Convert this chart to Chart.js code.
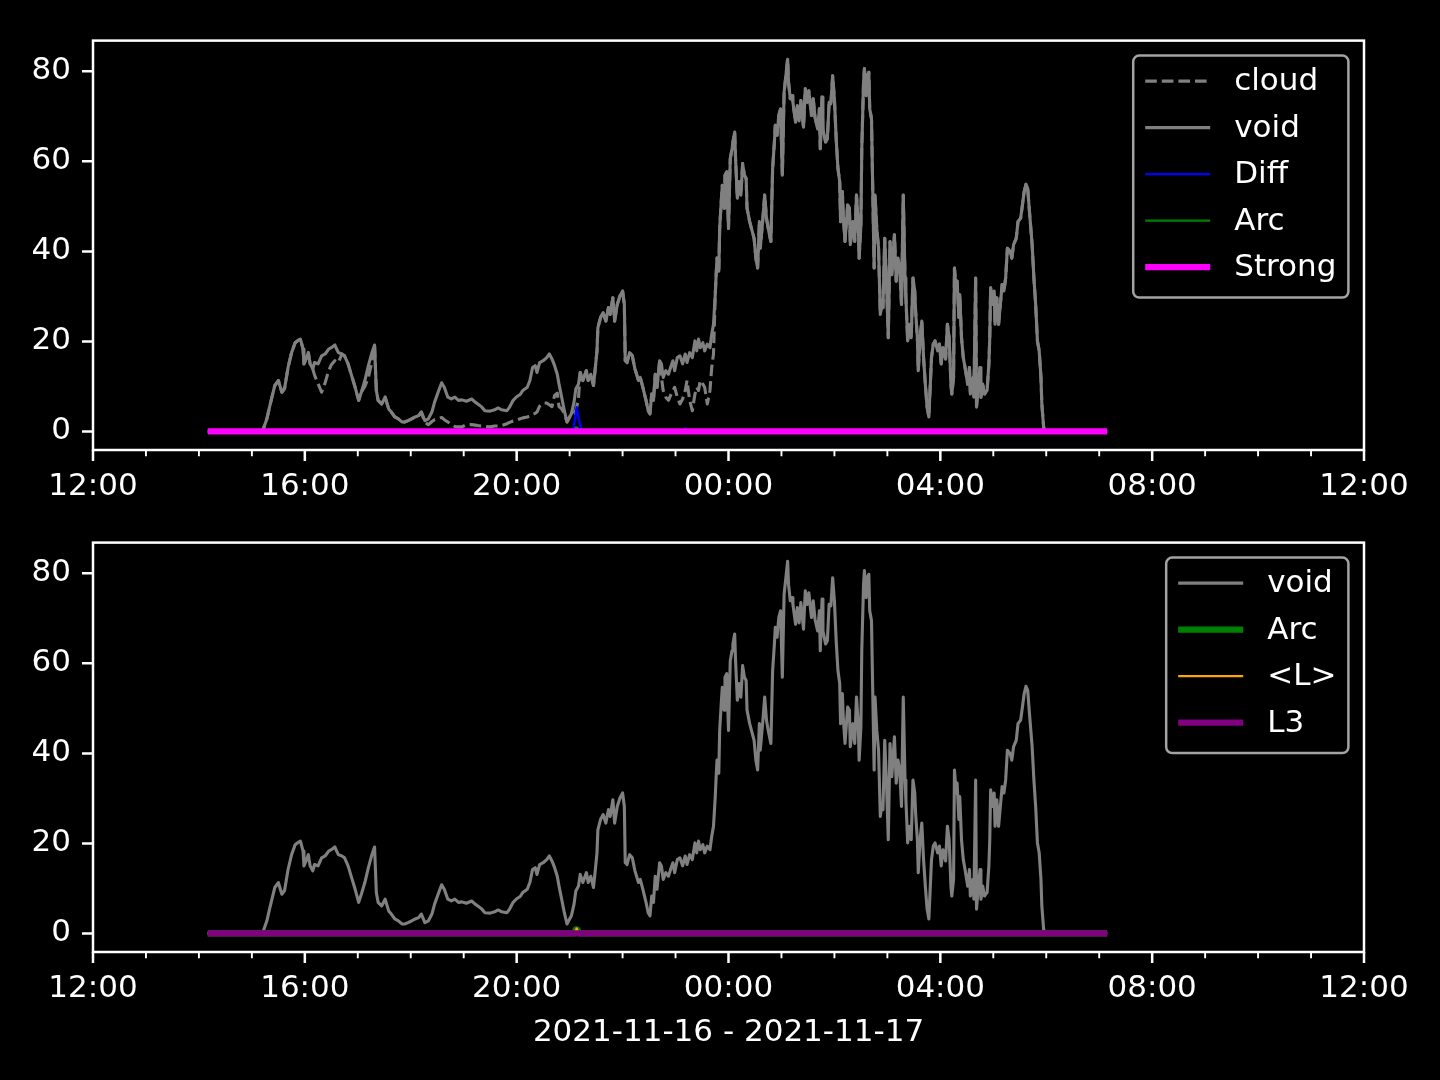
<!DOCTYPE html>
<html>
<head>
<meta charset="utf-8">
<title>void / cloud</title>
<script src="https://cdn.jsdelivr.net/npm/chart.js@4.4.0/dist/chart.umd.min.js"></script>
<style>
  body { margin: 0; background: #000; width: 1440px; height: 1080px; overflow: hidden; }
  canvas { position: absolute; left: 0; }
  #topChart { top: 0; }
  #bottomChart { top: 502px; }
</style>
</head>
<body>
<canvas id="topChart" width="1440" height="502"></canvas>
<canvas id="bottomChart" width="1440" height="578"></canvas>
<script>
// Sample times (local clock, 2021-11-16 afternoon -> 2021-11-17 morning)
const times = [
  '14:10','15:12','15:17','15:20','15:26','15:30','15:34','15:37','15:41','15:45',
  '15:49','15:53','15:55','15:58','15:59','16:02','16:04','16:06','16:09','16:11',
  '16:15','16:19','16:23','16:27','16:30','16:34','16:36','16:38','16:42','16:45',
  '16:49','16:53','16:57','17:01','17:04','17:08','17:12','17:16','17:19','17:21',
  '17:23','17:27','17:31','17:35','17:38','17:42','17:46','17:50','17:53','17:57',
  '18:01','18:05','18:09','18:12','18:16','18:20','18:24','18:27','18:31','18:35',
  '18:38','18:42','18:46','18:50','18:54','18:58','19:03','19:09','19:13','19:16',
  '19:20','19:24','19:30','19:35','19:39','19:43','19:49','19:52','19:56','20:00',
  '20:04','20:07','20:12','20:15','20:18','20:21','20:23','20:26','20:30','20:34',
  '20:37','20:40','20:43','20:46','20:48','20:51','20:54','20:57','21:00','21:02',
  '21:05','21:07','21:10','21:12','21:15','21:19','21:21','21:24','21:27','21:29',
  '21:31','21:32','21:35','21:38','21:41','21:44','21:46','21:49','21:51','21:54',
  '21:57','22:00','22:02','22:03','22:05','22:08','22:11','22:14','22:18','22:20',
  '22:23','22:27','22:29','22:31','22:33','22:35','22:37','22:39','22:42','22:44',
  '22:46','22:49','22:52','22:55','22:57','22:59','23:02','23:05','23:08','23:11',
  '23:13','23:16','23:19','23:22','23:24','23:26','23:28','23:31','23:33','23:36',
  '23:39','23:41','23:43','23:45','23:46','23:47','23:49','23:50','23:52','23:53',
  '23:55','23:56','23:58','00:00','00:02','00:04','00:05','00:07','00:08','00:10',
  '00:12','00:14','00:16','00:18','00:20','00:21','00:24','00:26','00:29','00:31',
  '00:33','00:35','00:36','00:39','00:41','00:43','00:45','00:48','00:50','00:52',
  '00:53','00:55','00:57','00:59','01:01','01:03','01:05','01:07','01:08','01:10',
  '01:12','01:13','01:16','01:18','01:20','01:22','01:25','01:27','01:29','01:31',
  '01:34','01:36','01:38','01:41','01:43','01:44','01:46','01:47','01:50','01:52',
  '01:54','01:56','01:58','02:00','02:02','02:04','02:06','02:07','02:09','02:10',
  '02:12','02:15','02:17','02:18','02:21','02:23','02:25','02:27','02:28','02:30',
  '02:31','02:33','02:34','02:36','02:37','02:39','02:40','02:42','02:43','02:45',
  '02:46','02:48','02:50','02:52','02:54','02:55','02:57','02:59','03:01','03:03',
  '03:05','03:08','03:10','03:12','03:14','03:16','03:18','03:20','03:21','03:23',
  '03:25','03:27','03:29','03:31','03:32','03:34','03:35','03:37','03:39','03:41',
  '03:43','03:45','03:47','03:48','03:50','03:52','03:54','03:57','03:59','04:01',
  '04:03','04:06','04:08','04:10','04:12','04:13','04:15','04:16','04:18','04:19',
  '04:21','04:22','04:24','04:26','04:28','04:31','04:33','04:34','04:37','04:38',
  '04:40','04:41','04:43','04:45','04:46','04:48','04:50','04:53','04:55','04:56',
  '04:57','04:59','05:01','05:02','05:04','05:06','05:08','05:10','05:12','05:14',
  '05:16','05:19','05:21','05:23','05:26','05:28','05:31','05:33','05:35','05:37',
  '05:39','05:41','05:44','05:46','05:48','05:50','05:52','05:54','05:55','05:57',
  '05:58','07:09'
];

const voidValues = [
  0,0,2.8,5.4,10.2,11.3,8.7,9.5,14.2,17.5,
  19.7,20.3,20.5,18.3,15.0,16.4,17.5,15.0,13.9,15.3,
  15.0,16.8,17.2,18.3,18.6,19.2,18.3,17.5,17.2,16.8,
  15.0,12.4,9.8,6.9,8.7,11.3,14.6,17.5,19.2,9.1,
  6.9,6.1,7.6,5.0,4.3,3.2,2.8,2.1,2.1,2.4,
  2.8,3.2,3.5,4.3,2.4,2.8,4.3,6.5,8.7,10.8,
  9.8,7.6,7.2,7.6,6.9,7.0,6.7,7.2,6.5,6.1,
  5.5,4.6,4.5,4.8,5.2,4.8,4.6,5.4,6.9,7.7,
  8.2,9.1,9.8,11.3,14.2,14.6,13.1,15.3,15.7,16.4,
  17.2,16.1,14.6,12.7,10.5,7.6,4.6,2.1,3.2,3.9,
  6.5,9.4,10.5,13.1,11.3,13.5,11.3,12.7,10.2,13.9,
  17.9,23.0,25.3,26.4,24.5,27.5,26.0,29.7,24.5,28.2,
  30.1,31.2,28.2,15.7,15.3,17.5,16.8,13.9,11.3,12.0,
  9.8,6.5,4.6,3.9,8.3,6.9,12.7,9.8,15.7,15.0,
  12.0,13.5,12.7,14.6,15.7,13.5,16.4,16.8,15.0,17.2,
  15.3,17.5,16.4,20.1,17.9,20.5,18.6,19.7,17.9,19.4,
  18.6,21.6,23.8,30.4,34.8,38.5,35.6,45.1,51.8,54.7,
  49.6,56.9,57.7,45.1,60.6,62.8,64.3,66.5,60.6,51.8,
  55.5,52.5,59.5,56.9,56.2,49.6,46.6,45.1,42.9,38.5,
  36.3,46.6,40.7,47.4,52.5,47.4,45.1,42.2,58.4,64.3,
  68.0,65.8,70.2,71.7,56.9,75.4,79.0,82.7,77.6,73.9,
  74.6,73.1,68.7,72.4,69.0,73.5,67.6,76.1,73.1,75.7,
  70.2,73.9,69.8,67.2,71.7,62.8,74.3,67.2,64.3,65.0,
  73.1,72.8,79.0,73.9,65.0,58.4,55.5,46.6,53.3,48.1,
  42.2,50.3,49.6,41.5,46.6,42.2,52.5,46.6,38.5,45.9,
  62.8,77.6,80.6,74.6,79.0,79.8,71.7,69.5,58.4,36.3,
  52.5,45.1,40.7,26.0,29.0,27.5,42.9,33.4,20.8,42.2,
  34.8,43.7,33.4,38.5,36.3,28.2,52.5,34.1,29.7,20.1,
  23.8,20.8,34.1,31.2,26.7,20.8,13.5,20.8,24.5,16.4,
  10.5,5.4,3.2,7.6,16.4,19.4,20.1,17.9,19.4,15.0,
  18.6,16.1,23.8,20.8,10.5,8.3,12.0,36.3,31.2,33.4,
  25.3,30.4,20.8,16.4,14.2,10.5,14.2,8.3,12.0,7.6,
  34.1,5.4,10.5,14.2,7.6,10.5,8.3,9.1,15.0,20.8,
  31.9,28.2,31.2,23.8,29.7,23.8,28.2,32.6,31.2,34.1,
  40.7,40.0,38.5,41.5,42.9,46.6,47.4,50.3,53.3,54.9,
  54.0,48.8,41.5,34.1,28.2,20.1,17.9,12.0,6.1,1.0,
  0,0
];

const cloudValues = [
  0,0,2.8,5.4,10.2,11.3,8.7,9.5,14.2,17.5,
  19.7,20.3,20.5,18.3,15.0,16.4,17.5,15.0,13.9,12.5,
  10.6,8.7,10.8,13.5,14.8,15.7,15.4,15.3,17.2,16.8,
  15.0,12.4,9.8,6.9,8.7,10.0,12.0,15.5,19.2,9.1,
  6.9,6.1,7.6,5.0,4.3,3.2,2.8,2.1,2.1,2.4,
  2.8,3.2,3.5,4.3,2.0,1.5,2.2,2.6,2.8,3.1,
  2.6,2.1,1.6,1.1,1.0,1.0,1.5,1.5,1.4,1.3,
  1.2,1.1,1.0,1.2,1.2,1.3,1.7,2.0,2.3,2.5,
  2.8,3.0,3.2,3.4,3.8,4.0,4.3,5.6,6.3,6.3,
  5.9,5.5,8.0,8.5,5.5,5.0,4.0,2.1,3.2,3.9,
  4.0,4.6,7.2,13.1,11.3,13.5,11.3,12.7,10.2,13.9,
  17.9,23.0,25.3,26.4,24.5,27.5,26.0,29.7,24.5,28.2,
  30.1,31.2,28.2,15.7,15.3,17.5,16.8,13.9,11.3,12.0,
  9.8,6.5,4.6,3.9,8.3,6.9,12.7,9.8,15.7,12.0,
  9.1,7.6,6.9,8.3,9.1,9.8,7.6,6.1,7.2,9.1,
  11.3,6.9,4.6,8.3,9.8,9.1,11.3,10.5,9.8,6.1,
  9.1,14.2,17.2,30.4,34.8,38.5,35.6,45.1,51.8,54.7,
  49.6,56.9,57.7,45.1,60.6,62.8,64.3,66.5,60.6,51.8,
  55.5,52.5,59.5,56.9,56.2,49.6,46.6,45.1,42.9,38.5,
  36.3,46.6,40.7,47.4,52.5,47.4,45.1,42.2,58.4,64.3,
  68.0,65.8,70.2,71.7,56.9,75.4,79.0,82.7,77.6,73.9,
  74.6,73.1,68.7,72.4,69.0,73.5,67.6,76.1,73.1,75.7,
  70.2,73.9,69.8,67.2,71.7,62.8,74.3,67.2,64.3,65.0,
  73.1,72.8,79.0,73.9,65.0,58.4,55.5,46.6,53.3,48.1,
  42.2,50.3,49.6,41.5,46.6,42.2,52.5,46.6,38.5,45.9,
  62.8,77.6,80.6,74.6,79.0,79.8,71.7,69.5,58.4,36.3,
  52.5,45.1,40.7,26.0,29.0,27.5,42.9,33.4,20.8,42.2,
  34.8,43.7,33.4,38.5,36.3,28.2,52.5,34.1,29.7,20.1,
  23.8,20.8,34.1,31.2,26.7,20.8,13.5,20.8,24.5,16.4,
  10.5,5.4,3.2,7.6,16.4,19.4,20.1,17.9,19.4,15.0,
  18.6,16.1,23.8,20.8,10.5,8.3,12.0,36.3,31.2,33.4,
  25.3,30.4,20.8,16.4,14.2,10.5,14.2,8.3,12.0,7.6,
  34.1,5.4,10.5,14.2,7.6,10.5,8.3,9.1,15.0,20.8,
  31.9,28.2,31.2,23.8,29.7,23.8,28.2,32.6,31.2,34.1,
  40.7,40.0,38.5,41.5,42.9,46.6,47.4,50.3,53.3,54.9,
  54.0,48.8,41.5,34.1,28.2,20.1,17.9,12.0,6.1,1.0,
  0,0
];

// small series, mostly zero
const diffTimes = ['14:10','21:04','21:08','21:11','21:14','23:10','23:11','23:12','07:09'];
const diffValues = [0, 0, 5.4, 2.0, 0, 0, 0.7, 0, 0];
const arcTimes = ['14:10','21:05','21:07','21:09','21:11','07:09'];
const arcValues = [0, 0, 0.9, 0.8, 0, 0];
const lTimes = ['14:10','21:06','21:08','21:10','07:09'];
const lValues = [0, 0, 1.1, 0, 0];
const strongTimes = ['14:10','07:09'];
const strongValues = [0, 0];
const l3Times = ['14:10','07:09'];
const l3Values = [0, 0];

// axes
const xTickLabels = ['12:00','16:00','20:00','00:00','04:00','08:00','12:00'];
const yTickValues = [0, 20, 40, 60, 80];
const xLabel = '2021-11-16 - 2021-11-17';

const FS = 31;
Chart.defaults.font.family = "'DejaVu Sans', sans-serif";
Chart.defaults.font.size = FS;
Chart.defaults.color = '#fff';

// hours after 12:00 on the first day
const toHours = t => {
    const [h, m] = t.split(':').map(Number);
    const v = h - 12 + m / 60;
    return v < 0 ? v + 24 : v;
};
const pts = (ts, vs) => ts.map((t, i) => ({ x: toHours(t), y: vs[i] }));

const yMax = Math.max(...voidValues, ...cloudValues);
const yPad = yMax * 0.05;

const line = (label, ts, vs, color, width, dash) => ({
    label,
    data: pts(ts, vs),
    borderColor: color,
    backgroundColor: color,
    borderWidth: width,
    borderDash: dash || [],
    borderCapStyle: 'butt',
    borderJoinStyle: 'round',
    pointRadius: 0,
    tension: 0,
    fill: false
});

// frame + tick marks, matplotlib style
const frame = {
    id: 'frame',
    afterDraw(chart) {
        const { ctx, chartArea: a, scales: { x, y } } = chart;
        ctx.save();
        ctx.strokeStyle = '#fff';
        ctx.lineWidth = 2.5;
        ctx.strokeRect(a.left, a.top, a.right - a.left, a.bottom - a.top);
        ctx.beginPath();
        xTickLabels.forEach((_, i) => {
            const px = x.getPixelForValue(i * 4);
            ctx.moveTo(px, a.bottom);
            ctx.lineTo(px, a.bottom + 11);
        });
        yTickValues.forEach(v => {
            const py = y.getPixelForValue(v);
            ctx.moveTo(a.left, py);
            ctx.lineTo(a.left - 11, py);
        });
        ctx.stroke();
        // minor ticks every hour
        ctx.lineWidth = 1.9;
        ctx.beginPath();
        for (let h = 1; h < 24; h++) {
            if (h % 4 === 0) continue;
            const px = x.getPixelForValue(h);
            ctx.moveTo(px, a.bottom);
            ctx.lineTo(px, a.bottom + 6.25);
        }
        ctx.stroke();
        ctx.restore();
    }
};

// legend box in the upper right corner
const boxLegend = {
    id: 'boxLegend',
    afterDatasetsDraw(chart) {
        const { ctx, chartArea: a } = chart;
        const sets = chart.data.datasets;
        ctx.save();
        ctx.font = FS + "px 'DejaVu Sans'";
        const textW = Math.max(...sets.map(d => ctx.measureText(d.label).width));
        const w = 12 + 65 + 24 + textW + 12;
        const h = 56 + (sets.length - 1) * 46.5;
        const left = a.right - 15.6 - w;
        const top = a.top + 15;
        ctx.beginPath();
        ctx.roundRect(left, top, w, h, 6);
        ctx.fillStyle = 'rgba(0,0,0,0.8)';
        ctx.fill();
        ctx.lineWidth = 2.5;
        ctx.strokeStyle = 'rgba(204,204,204,0.8)';
        ctx.stroke();
        sets.forEach((d, i) => {
            const cy = top + 25.5 + i * 46.5;
            ctx.beginPath();
            ctx.setLineDash(d.borderDash);
            ctx.strokeStyle = d.borderColor;
            ctx.lineWidth = d.borderWidth;
            ctx.moveTo(left + 12, cy);
            ctx.lineTo(left + 77, cy);
            ctx.stroke();
            ctx.setLineDash([]);
            ctx.fillStyle = '#fff';
            ctx.textAlign = 'left';
            ctx.textBaseline = 'alphabetic';
            ctx.fillText(d.label, left + 101, cy + 0.3 * FS);
        });
        ctx.restore();
    }
};

function makeChart(id, datasets, axisHeight, withTitle) {
    // later datasets are drawn on top
    datasets.forEach((d, i) => { d.order = datasets.length - i; });
    return new Chart(document.getElementById(id), {
        type: 'line',
        data: { datasets },
        options: {
            responsive: false,
            animation: false,
            layout: { padding: { top: 40, right: 76, left: 0, bottom: 0 } },
            plugins: {
                legend: { display: false },
                tooltip: { enabled: false }
            },
            scales: {
                x: {
                    type: 'linear',
                    min: 0,
                    max: 24,
                    afterBuildTicks: s => { s.ticks = xTickLabels.map((_, i) => ({ value: i * 4 })); },
                    afterFit: s => { s.height = axisHeight; },
                    ticks: {
                        callback: (v, i) => xTickLabels[i],
                        padding: 18,
                        maxRotation: 0,
                        autoSkip: false,
                        color: '#fff'
                    },
                    grid: { display: false, drawTicks: false },
                    border: { display: false },
                    title: {
                        display: withTitle,
                        text: xLabel,
                        color: '#fff',
                        padding: { top: 0, bottom: 28 }
                    }
                },
                y: {
                    min: -yPad,
                    max: yMax + yPad,
                    afterBuildTicks: s => { s.ticks = yTickValues.map(v => ({ value: v })); },
                    afterFit: s => { s.width = 93; },
                    ticks: { padding: 22, color: '#fff' },
                    grid: { display: false, drawTicks: false },
                    border: { display: false }
                }
            }
        },
        plugins: [boxLegend, frame]
    });
}

makeChart('topChart', [
    line('cloud', times, cloudValues, '#808080', 3.1, [11.6, 5]),
    line('void', times, voidValues, '#808080', 3.1),
    line('Diff', diffTimes, diffValues, '#0000ff', 2.4),
    line('Arc', arcTimes, arcValues, '#008000', 2.2),
    line('Strong', strongTimes, strongValues, '#ff00ff', 6.2)
], 52, false);

makeChart('bottomChart', [
    line('void', times, voidValues, '#808080', 3.1),
    line('Arc', arcTimes, arcValues, '#008000', 6.2),
    line('<L>', lTimes, lValues, '#ffa500', 2.2),
    line('L3', l3Times, l3Values, '#800080', 6.2)
], 128, true);
</script>
</body>
</html>
